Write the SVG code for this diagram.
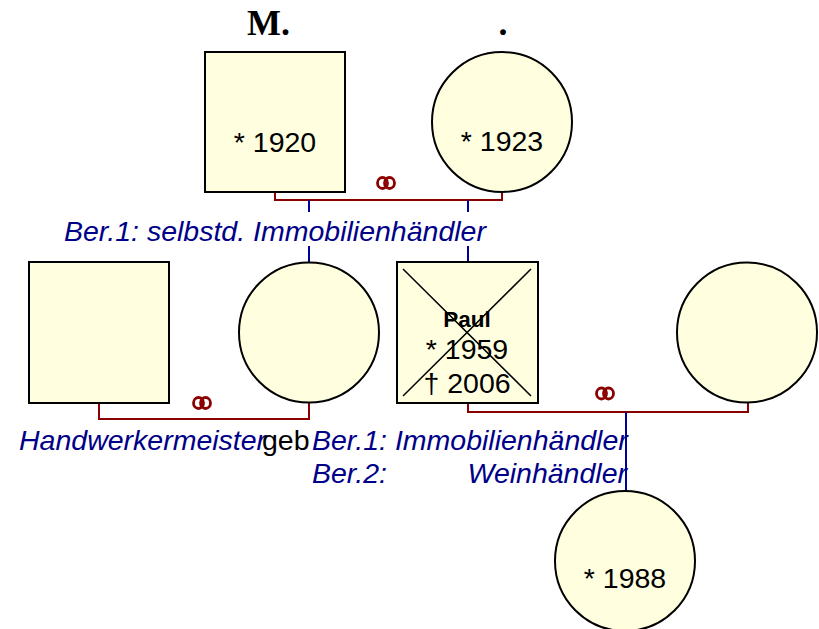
<svg xmlns="http://www.w3.org/2000/svg" width="819" height="629" viewBox="0 0 819 629">
<style>
.node{fill:#FFFFE0;stroke:#000;stroke-width:2}
.cross{stroke:#000;stroke-width:1.5}
.marr{fill:none;stroke:#8B0000;stroke-width:2}
.desc{fill:none;stroke:#000099;stroke-width:2}
.ring{fill:none;stroke:#8B0000;stroke-width:2.8}
.t{font-family:"Liberation Sans",Arial,sans-serif;font-size:28.5px;fill:#000}
.b{font-family:"Liberation Sans",Arial,sans-serif;font-size:22.5px;font-weight:bold;fill:#000}
.occ{font-family:"Liberation Sans",Arial,sans-serif;font-size:28.5px;font-style:italic;fill:#000088}
.title{font-family:"Liberation Serif","Times New Roman",serif;font-size:36px;font-weight:bold;fill:#000}
</style>
<rect width="819" height="629" fill="#fff"/>
<g id="connectors">
<path class="marr" d="M275,192 V200 H502 V192"/>
<path class="desc" d="M309,200 V212 M468,200 V212 M309,246 V262 M468,246 V262"/>
<path class="marr" d="M99,403 V419 H309 V403"/>
<path class="marr" d="M468,403 V412 H748 V403"/>
<path class="desc" d="M626,412 V491"/>
<g id="rings1"><ellipse class="ring" cx="382.5" cy="183" rx="5" ry="5.5"/><ellipse class="ring" cx="389.5" cy="183" rx="5" ry="5.5"/></g>
<g id="rings2"><ellipse class="ring" cx="198.5" cy="403" rx="5" ry="5.5"/><ellipse class="ring" cx="205.5" cy="403" rx="5" ry="5.5"/></g>
<g id="rings3"><ellipse class="ring" cx="601.5" cy="393.5" rx="5" ry="5.5"/><ellipse class="ring" cx="608.5" cy="393.5" rx="5" ry="5.5"/></g>
</g>
<g id="father">
<text class="title" x="247" y="35">M.</text>
<rect class="node" x="205" y="52" width="140" height="140"/>
<text class="t" x="275" y="152" text-anchor="middle">* 1920</text>
</g>
<g id="mother">
<text class="title" x="503" y="35" text-anchor="middle">.</text>
<circle class="node" cx="502" cy="122" r="70"/>
<text class="t" x="502" y="151" text-anchor="middle">* 1923</text>
</g>
<text class="occ" x="64" y="241">Ber.1: selbstd. Immobilienhändler</text>
<g id="husband">
<rect class="node" x="29" y="262" width="140" height="141"/>
</g>
<g id="daughter">
<circle class="node" cx="309" cy="332.5" r="70"/>
</g>
<g id="paul">
<rect class="node" x="397" y="262" width="141" height="141"/>
<path class="cross" d="M403,269 L531,396 M531,269 L403,396"/>
<text class="b" x="467" y="327" text-anchor="middle">Paul</text>
<text class="t" x="467" y="359" text-anchor="middle">* 1959</text>
<text class="t" x="467" y="393" text-anchor="middle">† 2006</text>
</g>
<g id="wife">
<circle class="node" cx="747" cy="332.5" r="70"/>
</g>
<g id="labels">
<text class="occ" x="19" y="450">Handwerkermeister</text>
<text class="t" x="262" y="450">geb</text>
<text class="occ" x="312" y="450">Ber.1: Immobilienhändler</text>
<text class="occ" x="312" y="483">Ber.2:</text>
<text class="occ" x="627" y="483" text-anchor="end">Weinhändler</text>
</g>
<g id="child">
<circle class="node" cx="625" cy="561" r="70"/>
<text class="t" x="625" y="588" text-anchor="middle">* 1988</text>
</g>
</svg>
